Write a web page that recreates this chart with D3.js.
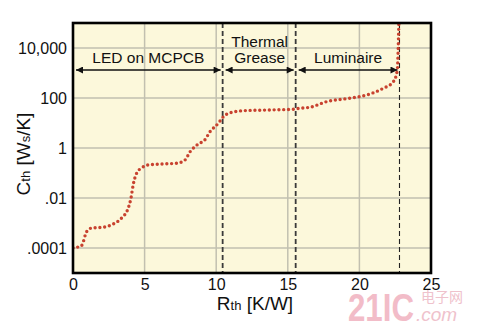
<!DOCTYPE html>
<html>
<head>
<meta charset="utf-8">
<script src="https://cdn.jsdelivr.net/npm/d3@7"></script>
<style>
  body { margin: 0; background: #fff; }
  text { font-family: "Liberation Sans", Arial, sans-serif; }
</style>
</head>
<body>
<div id="chart"></div>
<script>
////////////////////////////// Data //////////////////////////////
const rth = [0, 0.6, 0.95, 1.3, 2.1, 2.8, 3.4, 3.86, 4.05, 4.2, 4.45, 4.8, 5.26, 6.3, 7.24,
             7.82, 8.17, 8.75, 9.2, 9.57, 10.15, 10.5, 10.96, 11.9, 13.5, 15.4, 15.85, 16.55,
             17.7, 19.3, 20.5, 21.67, 22.37, 22.65, 22.7, 22.76];
const cth = [1e-4, 1.26e-4, 4.5e-4, 6.3e-4, 6.8e-4, 9e-4, 1.6e-3, 4e-3, 0.01, 0.033, 0.1, 0.16,
             0.21, 0.23, 0.245, 0.33, 0.7, 1.45, 2.1, 4.5, 9.8, 17.8, 25.7, 31, 33, 35.5, 39,
             42.7, 71, 98, 132, 245, 447, 1320, 6200, 1.3e5];
const xTicks = [0, 5, 10, 15, 20, 25];
const yTicks = [1e-4, 1e-2, 1, 100, 1e4];
const yTickLabels = [".0001", ".01", "1", "100", "10,000"];
const regionBounds = [0, 10.45, 15.55, 22.8];
const regionNames = [["LED on MCPCB"], ["Thermal", "Grease"], ["Luminaire"]];

////////////////////////////// Set-up //////////////////////////////
const W = 487, H = 329;
const margin = {left: 73, top: 23, right: 56, bottom: 56},
    width = W - margin.left - margin.right,
    height = H - margin.top - margin.bottom;

const x = d3.scaleLinear().domain([0, 25]).range([0, width]);
const y = d3.scaleLog().domain([1e-5, 1e5]).range([height, 0]);

const svg = d3.select("#chart").append("svg")
    .attr("width", W).attr("height", H);

const defs = svg.append("defs");
defs.append("clipPath").attr("id", "clip")
  .append("rect").attr("width", width).attr("height", height);
defs.append("marker").attr("id", "ah")
    .attr("viewBox", "0 0 10 10").attr("refX", 10).attr("refY", 5)
    .attr("markerWidth", 10).attr("markerHeight", 7)
    .attr("markerUnits", "userSpaceOnUse")
    .attr("orient", "auto-start-reverse")
  .append("path").attr("d", "M0,0L10,5L0,10Z").attr("fill", "#111");

// watermark
const wm = svg.append("g");
wm.append("text").attr("x", 348).attr("y", 321)
    .attr("textLength", 66).attr("lengthAdjust", "spacingAndGlyphs")
    .style("font-size", "38px").style("font-weight", "bold")
    .attr("fill", "#f2bcc8").text("21IC");
wm.append("text").attr("x", 421).attr("y", 302)
    .style("font-size", "14px").style("font-family", "Noto Sans CJK SC")
    .attr("fill", "#efc2cc").text("电子网");
wm.append("text").attr("x", 416).attr("y", 321)
    .style("font-size", "19px").style("font-style", "italic")
    .attr("fill", "#efc2cc").text(".com");

const g = svg.append("g")
    .attr("transform", "translate(" + margin.left + "," + margin.top + ")");

g.append("rect").attr("width", width).attr("height", height).attr("fill", "#fcf8db");

// grid
g.append("g").selectAll("line")
  .data(xTicks.slice(1, -1)).enter().append("line")
    .attr("x1", d => x(d)).attr("x2", d => x(d))
    .attr("y1", 0).attr("y2", height)
    .attr("stroke", "#c2c0b0").attr("stroke-width", 1.5);
g.append("g").selectAll("line")
  .data(yTicks).enter().append("line")
    .attr("y1", d => y(d)).attr("y2", d => y(d))
    .attr("x1", 0).attr("x2", width)
    .attr("stroke", "#c2c0b0").attr("stroke-width", 1.5);

// region dividers
g.append("g").selectAll("line")
  .data(regionBounds.slice(1)).enter().append("line")
    .attr("x1", d => x(d)).attr("x2", d => x(d))
    .attr("y1", 0).attr("y2", height)
    .attr("stroke", (d, i) => i < 2 ? "#3a3a3a" : "#222")
    .attr("stroke-width", (d, i) => i < 2 ? 1.8 : 1.1)
    .attr("stroke-dasharray", "5,3");

// arrows + labels
const arrowY = 47;
regionNames.forEach(function(lines, i) {
  const x0 = x(regionBounds[i]) + 3, x1 = x(regionBounds[i + 1]) - 2;
  g.append("line")
      .attr("x1", x0).attr("x2", x1).attr("y1", arrowY).attr("y2", arrowY)
      .attr("stroke", "#111").attr("stroke-width", 1.3)
      .attr("marker-start", "url(#ah)").attr("marker-end", "url(#ah)");
  const t = g.append("text")
      .attr("x", (x0 + x1) / 2).attr("text-anchor", "middle")
      .style("font-size", "15.5px").attr("fill", "#111");
  lines.forEach(function(s, j) {
    t.append("tspan").attr("x", (x0 + x1) / 2)
      .attr("y", arrowY - 7 - (lines.length - 1 - j) * 16).text(s);
  });
});

// curve
const line = d3.line()
    .x((d, i) => x(rth[i]))
    .y((d, i) => y(cth[i]))
    .curve(d3.curveMonotoneX);

g.append("path")
    .datum(cth)
    .attr("clip-path", "url(#clip)")
    .attr("d", line)
    .attr("fill", "none")
    .attr("stroke", "#c8422f")
    .attr("stroke-width", 3.4)
    .attr("stroke-linecap", "round")
    .attr("stroke-dasharray", "0,4.8");

// frame
g.append("rect").attr("width", width).attr("height", height)
    .attr("fill", "none").attr("stroke", "#000").attr("stroke-width", 2.6);

// axes
const xAxis = g.append("g")
    .attr("transform", "translate(0," + height + ")")
    .call(d3.axisBottom(x).tickValues(xTicks).tickSize(0).tickPadding(6));
const yAxis = g.append("g")
    .call(d3.axisLeft(y).tickValues(yTicks).tickSize(0).tickPadding(6)
      .tickFormat((d, i) => yTickLabels[i]));
[xAxis, yAxis].forEach(function(a) {
  a.select(".domain").remove();
  a.selectAll("text").style("font-size", "16px").style("font-family", "Liberation Sans, Arial, sans-serif")
    .attr("fill", "#111");
});

// axis titles
const xt = svg.append("text")
    .attr("x", 255).attr("y", 310).attr("text-anchor", "middle")
    .style("font-size", "19px").attr("fill", "#111");
xt.append("tspan").text("R");
xt.append("tspan").style("font-size", "13px").text("th");
xt.append("tspan").text(" [K/W]");

const yt = svg.append("text")
    .attr("transform", "translate(30,154) rotate(-90)")
    .attr("text-anchor", "middle")
    .style("font-size", "19px").attr("fill", "#111");
yt.append("tspan").text("C");
yt.append("tspan").style("font-size", "13px").text("th");
yt.append("tspan").text(" [W");
yt.append("tspan").style("font-size", "13px").text("s");
yt.append("tspan").text("/K]");
</script>
</body>
</html>
